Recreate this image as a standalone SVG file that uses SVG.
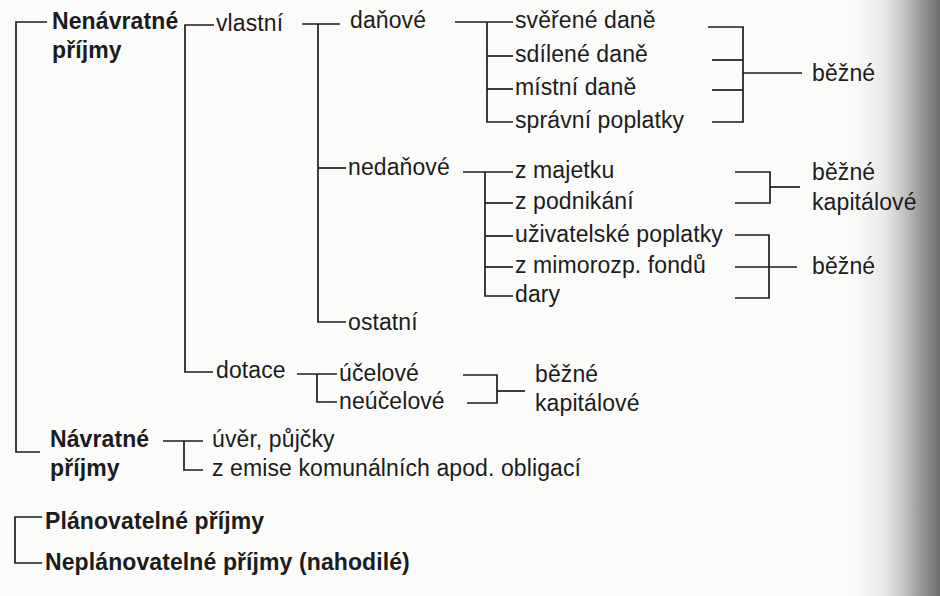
<svg xmlns="http://www.w3.org/2000/svg" width="940" height="596" viewBox="0 0 940 596">
<defs>
<linearGradient id="shade" x1="0" y1="0" x2="1" y2="0">
<stop offset="0" stop-color="#fafafa" stop-opacity="0"/>
<stop offset="0.45" stop-color="#d8d8d8" stop-opacity="0.6"/>
<stop offset="0.8" stop-color="#9a9a9a"/>
<stop offset="1" stop-color="#6e6e6e"/>
</linearGradient>
<style>
text{font-family:"Liberation Sans",Arial,Helvetica,sans-serif;font-size:23px;letter-spacing:0.1px;fill:#1c1c1c}
.b{font-weight:bold}
.c path{fill:none;stroke:#1c1c1c;stroke-width:1.7}
</style>
</defs>
<rect width="940" height="596" fill="#fbfbfa"/>
<rect x="840" y="0" width="100" height="596" fill="url(#shade)"/>
<g class="c" id="connectors">
<path d="M47,22 H16 V452 H40"/>
<path d="M214,25 H185 V372 H213"/>
<path d="M302,24 H340"/>
<path d="M318,24 V322 H346"/>
<path d="M318,168 H346"/>
<path d="M455,22 H513"/>
<path d="M487,22 V122 H513"/>
<path d="M487,56 H513"/>
<path d="M487,89 H513"/>
<path d="M708,27 H743 V122 H712"/>
<path d="M712,60 H743"/>
<path d="M712,90 H743"/>
<path d="M743,73 H802"/>
<path d="M463,172 H513"/>
<path d="M485,172 V296 H513"/>
<path d="M485,203 H513"/>
<path d="M485,236 H513"/>
<path d="M485,267 H513"/>
<path d="M735,172 H770 V203 H735"/>
<path d="M770,187 H800"/>
<path d="M735,235 H769 V298 H735"/>
<path d="M735,267 H797"/>
<path d="M297,374 H337"/>
<path d="M317,374 V402 H337"/>
<path d="M463,375 H497 V403 H467"/>
<path d="M497,391 H525"/>
<path d="M163,441 H203"/>
<path d="M184,441 V470 H203"/>
<path d="M42,517 H15 V563 H42"/>
</g>
<g id="nenavratne"><text class="b" x="52" y="29">Nenávratné</text><text class="b" x="52" y="58">příjmy</text></g>
<g id="vlastni"><text x="216" y="31">vlastní</text></g>
<g id="danove"><text x="350" y="28">daňové</text></g>
<g id="sverene"><text x="515" y="28">svěřené daně</text></g>
<g id="sdilene"><text x="515" y="62">sdílené daně</text></g>
<g id="mistni"><text x="515" y="95">místní daně</text></g>
<g id="spravni"><text x="515" y="128">správní poplatky</text></g>
<g id="bezne1"><text x="812" y="81">běžné</text></g>
<g id="nedanove"><text x="348" y="175">nedaňové</text></g>
<g id="ostatni"><text x="348" y="330">ostatní</text></g>
<g id="majetku"><text x="515" y="178">z majetku</text></g>
<g id="podnikani"><text x="515" y="209">z podnikání</text></g>
<g id="uzivatelske"><text x="515" y="242">uživatelské poplatky</text></g>
<g id="mimorozp"><text x="515" y="273">z mimorozp. fondů</text></g>
<g id="dary"><text x="515" y="302">dary</text></g>
<g id="bezne2"><text x="812" y="180">běžné</text><text x="812" y="210">kapitálové</text></g>
<g id="bezne3"><text x="812" y="274">běžné</text></g>
<g id="dotace"><text x="216" y="378">dotace</text></g>
<g id="ucelove"><text x="339" y="381">účelové</text></g>
<g id="neucelove"><text x="339" y="409">neúčelové</text></g>
<g id="bezne4"><text x="535" y="382">běžné</text><text x="535" y="411">kapitálové</text></g>
<g id="navratne"><text class="b" x="50" y="447">Návratné</text><text class="b" x="50" y="476">příjmy</text></g>
<g id="uver"><text x="212" y="447">úvěr, půjčky</text></g>
<g id="emise"><text x="212" y="476">z emise komunálních apod. obligací</text></g>
<g id="planovatelne"><text class="b" x="45" y="529">Plánovatelné příjmy</text></g>
<g id="neplanovatelne"><text class="b" x="45" y="570">Neplánovatelné příjmy (nahodilé)</text></g>
</svg>
